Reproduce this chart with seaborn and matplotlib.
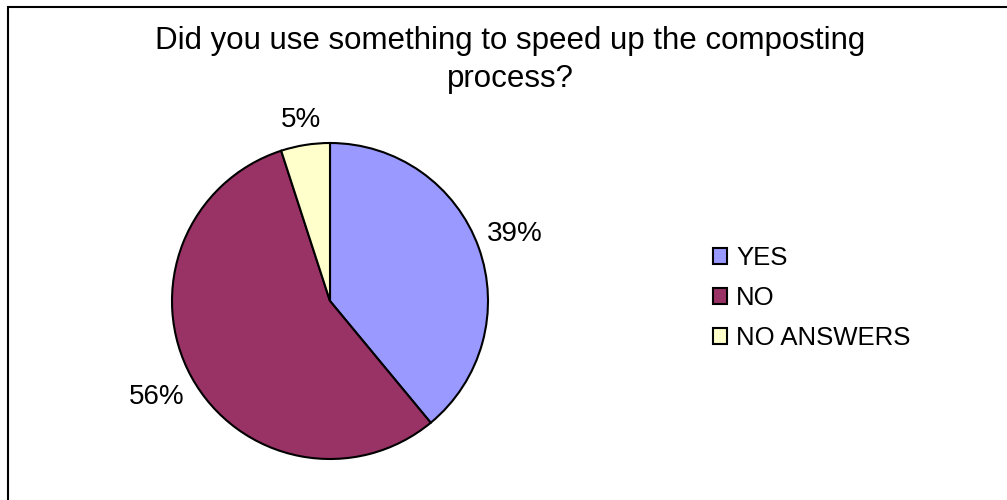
import matplotlib
matplotlib.use("Agg")
import numpy as np
import matplotlib.pyplot as plt
from matplotlib.patches import Rectangle
import seaborn as sns

# data
categories = ["YES", "NO", "NO ANSWERS"]
shares = [39, 56, 5]
colors = ["#9999FF", "#993366", "#FFFFCC"]
title = "Did you use something to speed up the composting\nprocess?"

sns.set_style("white")
plt.rcParams["font.family"] = ["Liberation Sans", "DejaVu Sans"]
plt.rcParams["text.color"] = "black"
palette = sns.color_palette(colors)

W, H = 1007, 500
fig = plt.figure(figsize=(W / 100, H / 100), dpi=100)

# pie placed in pixel terms: centre (330, 301), radius 158
cx, cy, r = 330, 301, 158
ax = fig.add_axes([(cx - r) / W, (H - cy - r) / H, 2 * r / W, 2 * r / H])

wedges, texts, autotexts = ax.pie(
    shares,
    colors=palette,
    startangle=90,
    counterclock=False,
    autopct=lambda p: f"{p:.0f}%",
    pctdistance=1.23,
    wedgeprops=dict(edgecolor="black", linewidth=1.5),
    textprops=dict(fontsize=20, color="black"),
)
# excel-style "outside end" labels sit at slightly different radii
label_dist = [1.245, 1.255, 1.16]
for w, t, d in zip(wedges, autotexts, label_dist):
    mid = np.deg2rad((w.theta1 + w.theta2) / 2)
    t.set_position((d * np.cos(mid), d * np.sin(mid)))

ax.set_aspect("equal")
ax.set_xlim(-1, 1)
ax.set_ylim(-1, 1)
ax.axis("off")

fig.text(510 / W, 1 - 26 / H, title, ha="center", va="top",
         fontsize=22.5, linespacing=1.35, color="black")

leg = fig.legend(wedges, categories, loc="upper left",
                 bbox_to_anchor=(713 / W, 1 - 246 / H),
                 frameon=False, fontsize=18.5, labelcolor="black",
                 handlelength=0.55, handleheight=0.55,
                 handletextpad=0.35, labelspacing=0.62,
                 borderpad=0, borderaxespad=0)

# chart-area border, running off the right and bottom edges
fig.add_artist(Rectangle((8 / W, -0.1), 1.2, 1 - 7 / H + 0.1,
                         transform=fig.transFigure, fill=False,
                         edgecolor="black", linewidth=1.5))

fig.savefig("out.png", dpi=100)
